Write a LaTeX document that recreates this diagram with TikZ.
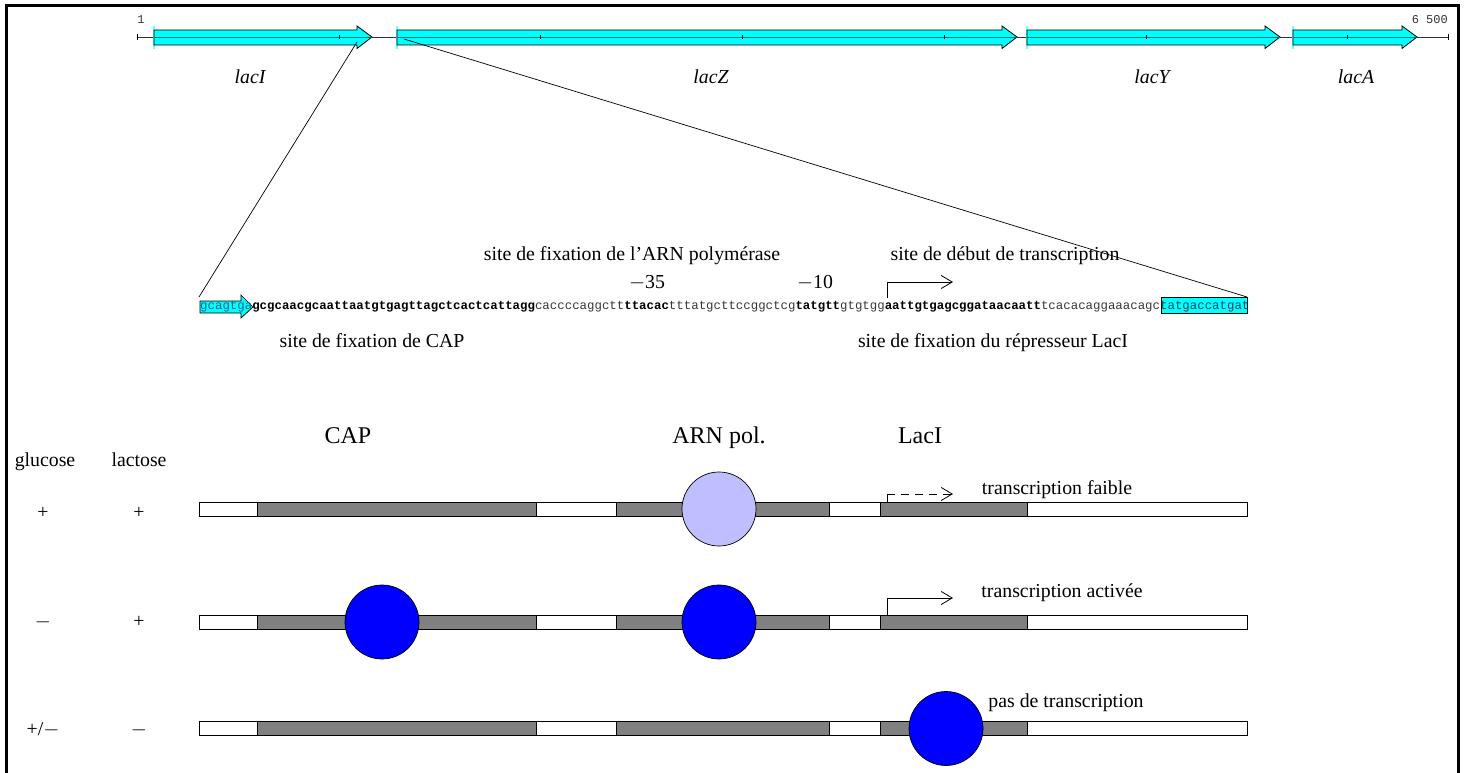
\documentclass[tikz,border=0pt]{standalone}
\usepackage{fontspec}
\setmainfont{Liberation Serif}
\setmonofont{Liberation Mono}
\usetikzlibrary{arrows.meta}
\definecolor{genecyan}{RGB}{0,255,255}
\definecolor{polblue}{RGB}{191,191,255}
\definecolor{protblue}{RGB}{0,0,255}
\definecolor{boxgray}{RGB}{128,128,128}
\definecolor{seqgray}{RGB}{55,55,55}
\definecolor{seqteal}{RGB}{20,100,140}
\definecolor{axisteal}{RGB}{0,110,110}

\begin{document}
\begin{tikzpicture}[x=1pt,y=-1pt,
  lbl/.style={font=\fontsize{19.8}{22}\selectfont, inner sep=0pt},
  headlbl/.style={font=\fontsize{24}{28}\selectfont, inner sep=0pt},
  genelbl/.style={font=\fontsize{19.8}{22}\selectfont\itshape, inner sep=0pt},
  scalelbl/.style={font=\fontsize{12}{14}\ttfamily, text=black!80, inner sep=0pt},
  genebody/.style={fill=genecyan, draw=black, line width=0.8pt},
  zoomline/.style={draw=black, line width=0.7pt},
  bar/.style={draw=black, line width=0.7pt},
  barbox/.style={fill=boxgray, draw=black, line width=0.7pt},
  prot/.style={circle, draw=black, line width=0.7pt, minimum size=74pt, inner sep=0pt},
  tss/.style={draw=black, line width=0.8pt},
  tssarrow/.style={draw=black, line width=0.8pt, -{Straight Barb[length=11pt,width=13pt]}},
]
\useasboundingbox (0,0) rectangle (1464,773);

% outer frame
\draw[line width=3pt] (6.5,5.5) rectangle (1458,795);

% ---------- genome map ----------
\draw[line width=0.8pt, black!80] (137,37) -- (1448,37);
\draw[line width=0.8pt] (137,34) -- (137,40) (1448,34) -- (1448,40);
\node[scalelbl, anchor=base] (pos1) at (141,24) {1};
\node[scalelbl, anchor=base east] (pos6500) at (1448,24) {6 500};

% genes: start, head start, tip
\foreach \nm/\xa/\xh/\xt in {lacIg/154/357/372, lacZg/397/1002/1017, lacYg/1027/1265/1280, lacAg/1293/1402/1417}{
  \draw[genecyan!60, line width=1.5pt] (\xa,26) -- (\xa,49);
  \draw[genebody] (\xa,30) -- (\xh,30) -- (\xh,26) -- (\xt,37) -- (\xh,48.5) -- (\xh,45) -- (\xa,45) -- cycle;
  \draw[axisteal, line width=0.8pt] (\xa,37) -- (\xt,37);
}
% scale ticks every 1000 bp
\foreach \x in {339,540,742,944,1146,1347}{
  \draw[line width=0.8pt] (\x,35) -- (\x,39.5);
}
\node[genelbl, anchor=base] (lacI) at (250,84) {lacI};
\node[genelbl, anchor=base] (lacZ) at (711,84) {lacZ};
\node[genelbl, anchor=base] (lacY) at (1152,84) {lacY};
\node[genelbl, anchor=base] (lacA) at (1356,84) {lacA};

% ---------- promoter sequence ----------
% cyan end of lacI and start of lacZ
\draw[fill=genecyan, draw=black, line width=0.7pt] (200,301) -- (241,301) -- (241,295) -- (253,307) -- (241,318) -- (241,313) -- (200,313) -- cycle;
\draw[fill=genecyan, draw=black, line width=0.7pt] (1161,297) rectangle (1247.5,313);

\node[anchor=base west, inner sep=0pt, font=\fontsize{12.4}{14}\ttfamily] (seq) at (200,309)
 {\textcolor{seqteal}{gcagtga}\textbf{gcgcaacgcaattaatgtgagttagctcactcattagg}\textcolor{seqgray}{caccccaggctt}\textbf{ttacac}\textcolor{seqgray}{tttatgcttccggctcg}\textbf{tatgtt}\textcolor{seqgray}{gtgtgg}\textbf{aattgtgagcggataacaatt}\textcolor{seqgray}{tcacacaggaaacagct}\textcolor{seqteal!70!black}{atgaccatgat}};

\coordinate (lacIzoom) at (357,42);
\coordinate (lacZzoom) at (404,39);
\coordinate (seqleft) at (199,297);
\coordinate (seqright) at (1247,297);
\draw[zoomline] (lacIzoom) -- (seqleft);
\draw[zoomline] (lacZzoom) -- (seqright);

\node[lbl, anchor=base] (polsite) at (632,260) {site de fixation de l’ARN polymérase};
\node[lbl, anchor=base] (tsssite) at (1005,260) {site de début de transcription};
\node[lbl, anchor=base] (m35) at (647,288) {$-$35};
\node[lbl, anchor=base] (m10) at (815,288) {$-$10};
\node[lbl, anchor=base] (capsite) at (372,347) {site de fixation de CAP};
\node[lbl, anchor=base] (lacisite) at (993,347) {site de fixation du répresseur LacI};

\coordinate (tss0) at (887,298);
\coordinate (tss1) at (887,282);
\coordinate (tss2) at (953,282);
\draw[tssarrow] (tss0) -- (tss1) -- (tss2);

% ---------- operon states ----------
\node[headlbl, anchor=base] (capT) at (348,443) {CAP};
\node[headlbl, anchor=base] (polT) at (719,443) {ARN pol.};
\node[headlbl, anchor=base] (laciT) at (920,443) {LacI};
\node[lbl, anchor=base] (glc) at (45,466) {glucose};
\node[lbl, anchor=base] (lac) at (139,466) {lactose};

\foreach \r/\y in {1/509, 2/622, 3/728.5}{
  \draw[bar, fill=white] (199,\y-7) rectangle (1247,\y+7);
  \draw[barbox] (257,\y-7) rectangle (536,\y+7);
  \draw[barbox] (616,\y-7) rectangle (829,\y+7);
  \draw[barbox] (880,\y-7) rectangle (1027,\y+7);
}

% row 1: glucose +, lactose +
\node[lbl, anchor=center] (g1) at (43,513) {+};
\node[lbl, anchor=center] (l1) at (139,513) {+};
\node[prot, fill=polblue] (pol1) at (719,509) {};
\coordinate (w0) at (887,502);
\coordinate (w1) at (887,494);
\coordinate (w2) at (953,494);
\draw[tss] (w0) -- (w1);
\draw[tssarrow, dash pattern=on 8pt off 6pt] (w1) -- (w2);
\node[lbl, anchor=base] (faible) at (1057,494) {transcription faible};

% row 2: glucose -, lactose +
\node[lbl, anchor=center] (g2) at (43,622) {$-$};
\node[lbl, anchor=center] (l2) at (139,622) {+};
\node[prot, fill=protblue] (cap2) at (382,622) {};
\node[prot, fill=protblue] (pol2) at (719,622) {};
\coordinate (a0) at (887,615);
\coordinate (a1) at (887,598);
\coordinate (a2) at (953,598);
\draw[tssarrow] (a0) -- (a1) -- (a2);
\node[lbl, anchor=base] (active) at (1062,597) {transcription activée};

% row 3: glucose +/-, lactose -
\node[lbl, anchor=center] (g3) at (43,730) {+/$-$};
\node[lbl, anchor=center] (l3) at (139,730) {$-$};
\node[prot, fill=protblue] (laci3) at (946,728.5) {};
\node[lbl, anchor=base] (aucune) at (1066,707) {pas de transcription};

\end{tikzpicture}
\end{document}
